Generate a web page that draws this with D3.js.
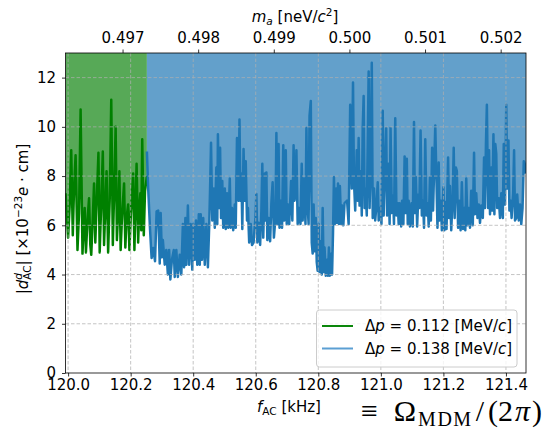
<!DOCTYPE html>
<html><head><meta charset="utf-8">
<script src="https://cdn.jsdelivr.net/npm/d3@7"></script>
<style>
body{margin:0;background:#fff;}
svg{display:block;font-family:"DejaVu Sans",sans-serif;}
</style></head><body>
<svg id="chart" width="546" height="434"></svg>
<script>
// ---- data (frequency in kHz, |d| in 1e-23 e·cm) ----
const greenData = [[119.992,7.3],[120.000,5.5],[120.005,6.8],[120.010,9.05],[120.015,5.6],[120.019,7.5],[120.024,8.85],[120.030,5.0],[120.035,6.5],[120.040,10.7],[120.046,4.85],[120.050,6.0],[120.053,6.7],[120.057,4.9],[120.062,6.2],[120.067,7.1],[120.071,5.2],[120.074,4.8],[120.079,6.3],[120.083,7.7],[120.087,5.3],[120.091,6.8],[120.097,8.95],[120.101,4.9],[120.105,6.5],[120.111,9.0],[120.115,5.2],[120.119,6.7],[120.123,8.2],[120.128,4.9],[120.133,7.0],[120.138,11.1],[120.143,5.2],[120.147,7.2],[120.152,10.0],[120.156,5.4],[120.161,6.8],[120.164,8.2],[120.168,5.0],[120.173,6.5],[120.179,7.7],[120.183,5.1],[120.187,6.3],[120.192,6.85],[120.196,5.0],[120.201,6.5],[120.208,8.1],[120.212,5.0],[120.216,7.0],[120.219,8.5],[120.224,5.3],[120.228,6.8],[120.231,7.3],[120.234,5.8],[120.237,9.5],[120.242,5.6],[120.246,7.4],[120.252,8.0]];

const blueData = [[120.252,9.0],[120.256,7.5],[120.262,5.83],[120.267,4.67],[120.272,5.08],[120.278,4.54],[120.283,6.57],
[120.288,6.6],[120.293,4.45],[120.296,6.5],[120.300,4.7],[120.303,5.4],[120.309,4.4],[120.314,5.0],[120.319,4.0],[120.323,5.0],[120.327,3.8],[120.332,4.6],[120.338,5.0],[120.341,3.9],[120.346,5.0],[120.351,3.9],[120.357,4.8],[120.362,4.0],[120.367,6.05],[120.371,4.3],[120.375,6.3],[120.378,4.4],[120.383,6.8],[120.387,4.4],[120.392,6.05],[120.397,4.2],[120.400,6.05],[120.405,4.6],[120.409,6.2],[120.413,4.4],[120.418,6.45],[120.421,4.4],[120.424,6.45],[120.428,4.6],[120.432,6.3],[120.437,4.4],[120.442,6.05],[120.447,4.3],[120.451,5.9],[120.454,7.5],[120.457,9.35],[120.461,6.2],[120.466,7.5],[120.469,5.9],[120.474,8.35],[120.477,6.05],[120.479,9.7],[120.483,6.7],[120.486,9.15],[120.489,6.3],[120.493,7.8],[120.496,5.9],[120.501,7.5],[120.504,5.85],[120.508,7.3],[120.512,5.9],[120.517,7.9],[120.520,5.9],[120.524,6.7],[120.528,5.8],[120.533,6.85],[120.536,5.9],[120.540,9.55],[120.543,7.1],[120.545,7.0],[120.548,10.3],[120.551,7.0],[120.554,8.1],[120.557,5.85],[120.561,9.1],[120.565,7.0],[120.568,8.6],[120.572,6.2],[120.575,6.7],[120.579,5.3],[120.584,6.05],[120.588,5.2],
[120.593,5.3],[120.599,6.3],[120.602,7.27],[120.605,5.3],[120.609,6.1],[120.614,5.2],[120.618,6.6],[120.621,8.5],[120.624,5.5],[120.629,8.1],[120.631,6.2],[120.634,8.15],[120.637,5.4],[120.641,6.3],[120.646,5.35],[120.650,6.9],[120.654,7.75],[120.658,5.5],[120.663,6.3],[120.666,9.75],[120.669,6.05],[120.673,9.3],[120.676,5.9],[120.680,7.0],[120.684,5.9],[120.688,9.25],[120.691,6.2],[120.696,9.05],[120.699,6.05],[120.703,6.85],[120.707,6.05],[120.713,7.8],[120.717,6.2],[120.721,9.25],[120.724,7.0],[120.727,7.3],[120.730,9.05],[120.734,6.05],[120.738,6.7],[120.743,6.05],[120.747,8.5],[120.750,6.2],[120.754,7.9],[120.759,6.05],[120.762,9.95],[120.765,7.0],[120.769,6.05],[120.772,10.45],[120.776,11.05],[120.779,5.3],[120.782,4.85],[120.785,6.85],[120.788,4.95],[120.792,6.3],[120.795,4.5],[120.798,4.15],[120.801,6.05],[120.804,4.1],[120.808,5.35],[120.811,4.0],[120.814,6.7],[120.817,4.1],[120.820,5.1],[120.824,3.95],[120.828,4.6],[120.831,3.95],[120.834,5.1],[120.837,3.95],[120.841,4.84],[120.844,4.0],[120.847,5.65],[120.850,7.95],[120.853,6.05],[120.857,7.5],[120.860,6.1],[120.863,7.7],[120.866,6.05],[120.869,7.6],[120.873,6.05],[120.876,6.8],[120.880,6.0],[120.884,6.9],
[120.892,7.0],[120.897,6.05],[120.902,10.9],[120.907,7.5],[120.911,11.8],[120.914,7.8],[120.918,6.6],[120.923,9.05],[120.926,7.0],[120.929,9.55],[120.932,6.8],[120.936,8.2],[120.939,6.4],[120.942,9.95],[120.945,11.25],[120.948,6.7],[120.951,7.5],[120.955,6.4],[120.958,9.3],[120.961,12.25],[120.964,6.7],[120.968,9.05],[120.971,12.6],[120.974,6.3],[120.978,7.5],[120.982,6.2],[120.987,7.0],[120.990,7.75],[120.993,6.2],[120.997,6.7],[121.002,6.05],[121.006,10.65],[121.009,6.4],[121.013,8.3],[121.017,9.95],[121.020,6.4],[121.024,8.5],[121.028,6.05],[121.031,9.95],[121.035,6.5],[121.039,7.2],[121.042,6.05],[121.046,10.35],[121.050,6.4],[121.054,6.9],[121.057,6.05],[121.060,6.9],[121.065,5.95],[121.068,7.0],[121.072,6.05],[121.076,8.8],[121.079,6.5],[121.083,8.7],[121.086,6.05],[121.089,7.0],[121.093,5.95],[121.098,6.9],[121.102,5.95],[121.106,10.2],[121.109,6.5],[121.112,7.95],[121.116,5.95],[121.120,7.25],[121.123,6.7],[121.127,9.85],[121.131,6.4],[121.135,7.0],[121.138,5.9],[121.142,9.5],[121.146,6.4],[121.150,6.9],[121.153,5.95],[121.157,7.95],[121.160,6.2],[121.164,9.15],[121.167,6.6],[121.171,8.6],[121.174,10.05],
[121.181,5.9],[121.185,8.55],[121.188,6.2],[121.192,7.0],[121.195,5.8],[121.200,7.55],[121.203,5.8],[121.207,6.95],[121.210,5.85],[121.215,8.75],[121.218,6.3],[121.221,7.6],[121.225,5.8],[121.230,7.25],[121.233,9.15],[121.236,6.3],[121.240,8.35],[121.243,8.2],[121.247,5.9],[121.251,7.0],[121.255,5.8],[121.259,7.75],[121.263,5.85],[121.267,6.7],[121.270,5.8],[121.273,7.9],[121.277,6.0],[121.281,6.7],[121.285,5.9],[121.289,7.4],[121.294,6.0],[121.298,8.95],[121.301,6.45],[121.305,7.3],[121.309,6.3],[121.313,6.85],[121.317,6.1],[121.321,6.8],[121.326,6.3],[121.330,8.75],[121.333,6.7],[121.336,9.3],[121.339,10.9],[121.343,6.7],[121.346,9.05],[121.349,6.45],[121.353,8.35],[121.356,6.6],[121.360,9.7],[121.363,6.45],[121.366,9.3],[121.369,8.9],[121.372,6.7],[121.377,7.1],[121.381,6.3],[121.385,7.3],[121.390,6.3],[121.393,9.3],[121.397,6.85],[121.401,10.9],[121.404,7.5],[121.408,9.45],[121.411,6.6],[121.415,7.0],[121.418,6.3],[121.423,7.3],[121.426,9.05],[121.429,6.2],[121.433,6.3],[121.436,7.25],[121.441,6.2],[121.445,6.85],[121.449,6.05],[121.453,6.7],[121.457,8.6],[121.460,8.5],[121.464,8.1]];

const xTicks = [120.0,120.2,120.4,120.6,120.8,121.0,121.2,121.4];
const yTicks = [0,2,4,6,8,10,12];
const mTicks = [0.497,0.498,0.499,0.500,0.501,0.502];
const legendDp = ["0.112","0.138"];
const xDomain = [119.9917, 121.4641];
const yDomain = [0, 13];
const KHZ_PER_NEV = 241.799; // f = m c^2 / h

// ---- layout ----
const L = 65.5, R = 526, T = 53, B = 373;
const svg = d3.select("#chart");
const x = d3.scaleLinear().domain(xDomain).range([L, R]);
const y = d3.scaleLinear().domain(yDomain).range([B, T]);
const xm = d3.scaleLinear().domain(xDomain.map(f => f / KHZ_PER_NEV)).range([L, R]);

svg.append("defs").append("clipPath").attr("id","clip")
  .append("rect").attr("x",L).attr("y",T).attr("width",R-L).attr("height",B-T);

const plot = svg.append("g").attr("clip-path","url(#clip)");

const area = d3.area().x(d => x(d[0])).y0(T - 5).y1(d => y(d[1]));
const line = d3.line().x(d => x(d[0])).y(d => y(d[1]));

plot.append("path").datum(greenData).attr("d", area).attr("fill", "#57a957");
plot.append("path").datum(blueData).attr("d", area).attr("fill", "#63a0cb");

// grid
const grid = svg.append("g").attr("stroke","#b0b0b0").attr("stroke-width",0.8)
  .attr("stroke-dasharray","3.5,2").attr("opacity",0.9);
grid.selectAll(".gx").data(xTicks).join("line")
  .attr("x1", d => x(d)).attr("x2", d => x(d)).attr("y1", T).attr("y2", B);
grid.selectAll(".gy").data(yTicks.slice(1)).join("line")
  .attr("y1", d => y(d)).attr("y2", d => y(d)).attr("x1", L).attr("x2", R);

plot.append("path").datum(greenData).attr("d", line).attr("fill","none")
  .attr("stroke","#008000").attr("stroke-width",2.5).attr("stroke-linejoin","round");
plot.append("path").datum(blueData).attr("d", line).attr("fill","none")
  .attr("stroke","#1f77b4").attr("stroke-width",2.5).attr("stroke-linejoin","round");

// axes
function styleAxis(g){
  g.select(".domain").remove();
  g.selectAll(".tick line").attr("stroke","#000").attr("stroke-width",0.8);
  g.selectAll(".tick text").attr("fill","#000").style("font-size","15px")
    .style("font-family","'DejaVu Sans', sans-serif");
}
svg.append("g").attr("transform",`translate(0,${B})`)
  .call(d3.axisBottom(x).tickValues(xTicks).tickFormat(d3.format(".1f")).tickSize(3.5).tickPadding(2.5))
  .call(styleAxis);
svg.append("g").attr("transform",`translate(${L},0)`)
  .call(d3.axisLeft(y).tickValues(yTicks).tickFormat(d3.format("d")).tickSize(3.5).tickPadding(6))
  .call(styleAxis);
svg.append("g").attr("transform",`translate(0,${T})`)
  .call(d3.axisTop(xm).tickValues(mTicks).tickFormat(d3.format(".3f")).tickSize(3.5).tickPadding(7))
  .call(styleAxis);

// spines
svg.append("rect").attr("x",L).attr("y",T).attr("width",R-L).attr("height",B-T)
  .attr("fill","none").attr("stroke","#000").attr("stroke-width",0.8);

// axis labels
const xl = svg.append("text").attr("x",289).attr("y",412).attr("text-anchor","middle").style("font-size","15px");
xl.append("tspan").attr("font-style","italic").text("f");
xl.append("tspan").attr("font-size","10.5px").attr("dy",3).text("AC");
xl.append("tspan").attr("dy",-3).text(" [kHz]");

const tl = svg.append("text").attr("x",295).attr("y",22).attr("text-anchor","middle").style("font-size","15px");
tl.append("tspan").attr("font-style","italic").text("m");
tl.append("tspan").attr("font-style","italic").attr("font-size","10.5px").attr("dy",3).text("a");
tl.append("tspan").attr("dy",-3).text(" [neV/");
tl.append("tspan").attr("font-style","italic").text("c");
tl.append("tspan").attr("font-size","10.5px").attr("dy",-6).text("2");
tl.append("tspan").attr("dy",6).text("]");

const yl = svg.append("text").attr("transform","translate(28,219) rotate(-90)")
  .attr("text-anchor","middle").style("font-size","15px");
yl.append("tspan").text("|");
yl.append("tspan").attr("font-style","italic").text("d");
yl.append("tspan").attr("font-style","italic").attr("font-size","10.5px").attr("dy",-6).text("d");
yl.append("tspan").attr("font-size","10.5px").attr("dx",-6.7).attr("dy",9).text("AC");
yl.append("tspan").attr("dy",-3).text("| [×10");
yl.append("tspan").attr("font-size","10.5px").attr("dy",-6).text("−23");
yl.append("tspan").attr("font-style","italic").attr("dy",6).text("e");
yl.append("tspan").text(" · cm]");

const om = svg.append("text").attr("x",542).attr("y",421).attr("text-anchor","end")
  .style("font-family","'Liberation Serif', serif").style("font-size","30px");
om.append("tspan").text("≡");
om.append("tspan").attr("dx",16).text("Ω");
om.append("tspan").attr("font-size","20px").attr("letter-spacing","1.5px").attr("dy",5).attr("dx",2).text("MDM");
om.append("tspan").attr("dy",-5).attr("dx",3).text("/");
om.append("tspan").attr("dx",4).text("(2");
om.append("tspan").attr("font-style","italic").attr("dx",2).text("π");
om.append("tspan").attr("dx",2).text(")");

// legend
const lg = svg.append("g");
lg.append("rect").attr("x",316.5).attr("y",310).attr("width",200.5).attr("height",57)
  .attr("rx",3).attr("fill","#fff").attr("fill-opacity",0.8).attr("stroke","#cccccc").attr("stroke-width",1);
const legendColors = ["#0b870b","#5b9fd3"];
legendDp.forEach((dp,i) => {
  const cy = 326 + i*22.5;
  lg.append("line").attr("x1",322).attr("x2",353).attr("y1",cy).attr("y2",cy)
    .attr("stroke",legendColors[i]).attr("stroke-width",2);
  const t = lg.append("text").attr("x",365).attr("y",cy+5).style("font-size","15px");
  t.append("tspan").text("Δ");
  t.append("tspan").attr("font-style","italic").text("p");
  t.append("tspan").text(" = " + dp + " [MeV/");
  t.append("tspan").attr("font-style","italic").text("c");
  t.append("tspan").text("]");
});
</script>
</body></html>
